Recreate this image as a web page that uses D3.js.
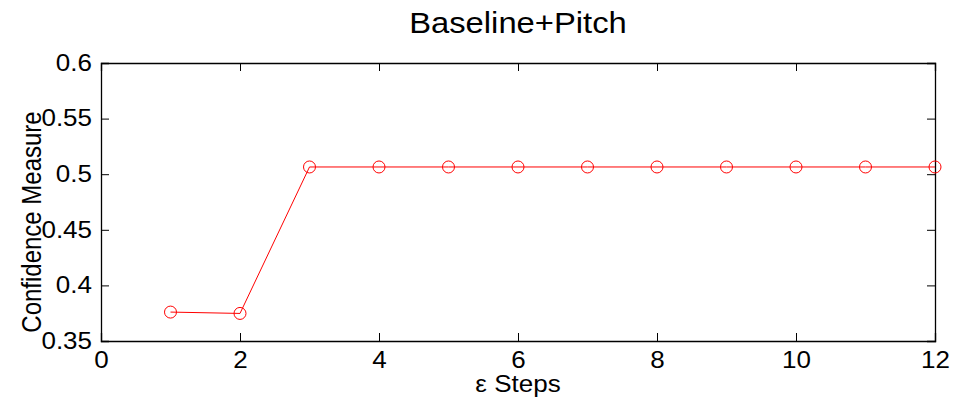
<!DOCTYPE html>
<html>
<head>
<meta charset="utf-8">
<script src="https://cdn.jsdelivr.net/npm/d3@7"></script>
<style>
  body { margin: 0; background: #fff; }
  text { font-family: "Liberation Sans", Arial, sans-serif; fill: #000; }
</style>
</head>
<body>
<div id="graph"></div>
<script>
(function() {
  'use strict';
  var steps = [1, 2, 3, 4, 5, 6, 7, 8, 9, 10, 11, 12],
    confidence = [0.376, 0.3748, 0.5065, 0.5065, 0.5065, 0.5065, 0.5065, 0.5065, 0.5065, 0.5065, 0.5065, 0.5065],
    xTicks = [0, 2, 4, 6, 8, 10, 12],
    yTicks = [0.35, 0.4, 0.45, 0.5, 0.55, 0.6];

  var W = 959, H = 407,
    margin = {top: 63, right: 24, bottom: 66, left: 101},
    width = W - margin.left - margin.right,
    height = H - margin.top - margin.bottom,
    tickLen = 8,
    stretchX = 1.13;   // the source picture is a bit wider than tall

  var svg = d3.select('#graph').append('svg')
    .attr('width', W)
    .attr('height', H);

  var x = d3.scaleLinear().domain([0, 12]).range([margin.left, margin.left + width]);
  var y = d3.scaleLinear().domain([0.35, 0.6]).range([margin.top + height, margin.top]);

  var fmt = function(d) { return d3.format('')(+d.toFixed(2)); };

  // widen text horizontally
  function stretch(sel) {
    sel.each(function() {
      var len = this.getComputedTextLength();
      d3.select(this)
        .attr('textLength', len * stretchX)
        .attr('lengthAdjust', 'spacingAndGlyphs');
    });
  }

  // axes (ticks inside, mirrored)
  svg.append('g')
    .attr('transform', 'translate(0,' + (margin.top + height) + ')')
    .call(d3.axisBottom(x).tickValues(xTicks).tickSize(-tickLen).tickPadding(tickLen + 3).tickFormat(fmt));
  svg.append('g')
    .attr('transform', 'translate(0,' + margin.top + ')')
    .call(d3.axisTop(x).tickValues(xTicks).tickSize(-tickLen).tickFormat(''));
  svg.append('g')
    .attr('transform', 'translate(' + margin.left + ',0)')
    .call(d3.axisLeft(y).tickValues(yTicks).tickSize(-tickLen).tickPadding(tickLen + 1).tickFormat(fmt));
  svg.append('g')
    .attr('transform', 'translate(' + (margin.left + width) + ',0)')
    .call(d3.axisRight(y).tickValues(yTicks).tickSize(-tickLen).tickFormat(''));

  svg.selectAll('.domain').attr('stroke', '#000').attr('stroke-width', 1.3);
  svg.selectAll('.tick line').attr('stroke', '#000');
  svg.selectAll('.tick text').style('font-size', '23px').attr('fill', '#000').call(stretch);

  // data line
  var line = d3.line()
    .x(function(d, i) { return x(steps[i]); })
    .y(function(d) { return y(d); });

  svg.append('path')
    .datum(confidence)
    .attr('d', line)
    .attr('fill', 'none')
    .attr('stroke', '#ff0000')
    .attr('stroke-width', 1);

  svg.selectAll('circle.pt')
    .data(confidence)
    .enter().append('circle')
    .attr('class', 'pt')
    .attr('cx', function(d, i) { return x(steps[i]); })
    .attr('cy', function(d) { return y(d); })
    .attr('r', 6)
    .attr('fill', 'none')
    .attr('stroke', '#ff0000')
    .attr('stroke-width', 1);

  // labels
  svg.append('text')
    .attr('x', margin.left + width / 2)
    .attr('y', 33)
    .attr('text-anchor', 'middle')
    .style('font-size', '29px')
    .text('Baseline+Pitch')
    .call(stretch);

  svg.append('text')
    .attr('x', margin.left + width / 2)
    .attr('y', 392)
    .attr('text-anchor', 'middle')
    .style('font-size', '23px')
    .text('\u03b5 Steps')
    .call(stretch);

  svg.append('text')
    .attr('transform', 'translate(41,222) scale(' + stretchX + ',1) rotate(-90)')
    .attr('text-anchor', 'middle')
    .style('font-size', '24px')
    .text('Confidence Measure');
})();
</script>
</body>
</html>
